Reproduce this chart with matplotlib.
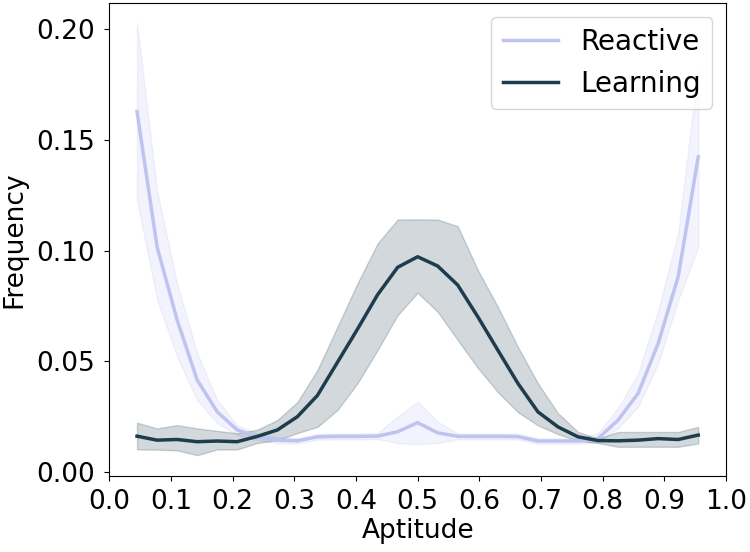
import matplotlib
matplotlib.use("Agg")
from matplotlib import pyplot as plt

plt.rcParams['font.family'] = ['DejaVu Sans']

# bin centres
aptitude = [0.045, 0.0775, 0.11, 0.1425, 0.175, 0.2075, 0.24, 0.2725, 0.305, 0.3375,
            0.37, 0.4025, 0.435, 0.4675, 0.5, 0.5325, 0.565, 0.5975, 0.63, 0.6625,
            0.695, 0.7275, 0.76, 0.7925, 0.825, 0.8575, 0.89, 0.9225, 0.955]

reactive_mean = [0.1628, 0.1017, 0.0686, 0.0415, 0.0271, 0.0189, 0.0158, 0.0143, 0.0140, 0.0158,
                 0.0160, 0.0160, 0.0161, 0.0181, 0.0222, 0.0176, 0.0160, 0.0160, 0.0160, 0.0159,
                 0.0139, 0.0139, 0.0139, 0.0150, 0.0234, 0.0354, 0.0580, 0.0882, 0.1424]
reactive_lo = [0.1228, 0.0780, 0.0520, 0.0324, 0.0220, 0.0166, 0.0143, 0.0130, 0.0128, 0.0145,
               0.0147, 0.0147, 0.0148, 0.0130, 0.0125, 0.0130, 0.0147, 0.0147, 0.0147, 0.0146,
               0.0127, 0.0127, 0.0127, 0.0135, 0.0197, 0.0294, 0.0490, 0.0776, 0.1017]
reactive_hi = [0.2027, 0.1270, 0.0850, 0.0536, 0.0324, 0.0210, 0.0173, 0.0156, 0.0152, 0.0171,
               0.0173, 0.0173, 0.0175, 0.0249, 0.0317, 0.0226, 0.0173, 0.0173, 0.0173, 0.0172,
               0.0151, 0.0151, 0.0151, 0.0175, 0.0288, 0.0444, 0.0730, 0.1078, 0.1830]

learning_mean = [0.0161, 0.0143, 0.0146, 0.0136, 0.0139, 0.0136, 0.0160, 0.0189, 0.0249, 0.0345,
                 0.0495, 0.0645, 0.0800, 0.0924, 0.0972, 0.0930, 0.0844, 0.0701, 0.0550, 0.0400,
                 0.0271, 0.0203, 0.0158, 0.0141, 0.0140, 0.0143, 0.0150, 0.0146, 0.0166]
learning_lo = [0.0101, 0.0100, 0.0097, 0.0075, 0.0101, 0.0101, 0.0130, 0.0143, 0.0175, 0.0203,
               0.0279, 0.0400, 0.0550, 0.0708, 0.0809, 0.0723, 0.0595, 0.0470, 0.0360, 0.0270,
               0.0210, 0.0170, 0.0140, 0.0130, 0.0113, 0.0113, 0.0113, 0.0113, 0.0128]
learning_hi = [0.0222, 0.0196, 0.0211, 0.0196, 0.0185, 0.0174, 0.0190, 0.0234, 0.0315, 0.0460,
               0.0656, 0.0852, 0.1032, 0.1140, 0.1141, 0.1140, 0.1110, 0.0912, 0.0746, 0.0565,
               0.0400, 0.0265, 0.0180, 0.0150, 0.0180, 0.0180, 0.0180, 0.0180, 0.0203]

c_react = "#bfc3f0"
c_learn = "#1e3d4c"
fs = 19

fig = plt.figure(figsize=(7.5, 5.52), dpi=100)
ax = fig.add_axes([0.1457, 0.1377, 0.8223, 0.8569])

ax.fill_between(aptitude, reactive_lo, reactive_hi, color=c_react, alpha=0.2)
ax.plot(aptitude, reactive_mean, color=c_react, lw=2.5, label="Reactive")
ax.fill_between(aptitude, learning_lo, learning_hi, color=c_learn, alpha=0.2)
ax.plot(aptitude, learning_mean, color=c_learn, lw=2.5, label="Learning")

ax.set_xlim(0, 1)
ax.set_ylim(-0.0019, 0.2119)
ax.set_xticks([i / 10 for i in range(11)])
ax.set_yticks([0.0, 0.05, 0.10, 0.15, 0.20])
ax.set_yticklabels(["0.00", "0.05", "0.10", "0.15", "0.20"])
ax.tick_params(labelsize=fs)
ax.tick_params(axis="y", pad=6.5)
ax.tick_params(axis="x", pad=6)
ax.set_xlabel("Aptitude", fontsize=fs, labelpad=2)
ax.set_ylabel("Frequency", fontsize=fs, labelpad=7)
ax.legend(loc="upper right", fontsize=20)

fig.savefig("out.png", dpi=100)
